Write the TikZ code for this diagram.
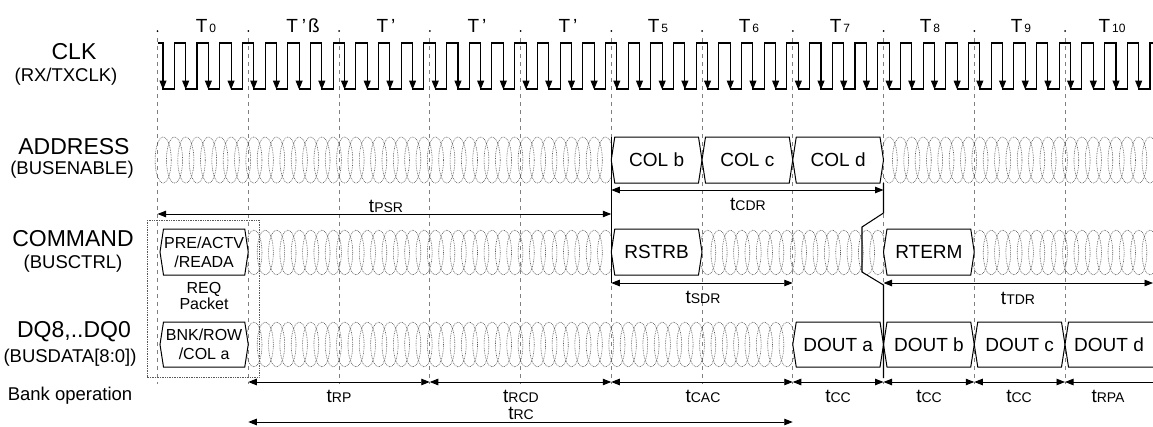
\documentclass[tikz,border=0pt]{standalone}
\usepackage{fontspec}
\setmainfont{Liberation Sans}
\usetikzlibrary{arrows.meta}
\newcommand\myfs[1]{\fontsize{#1}{#1}\selectfont}
\newcommand\dcrow[5]{%
  \foreach \i in {1,...,#2} \draw[dc] ({#1+(\i-0.5)*#5},#3) ellipse [x radius={#5/2+2.4}, y radius=#4];}
\newcommand\bbox[7]{%
  \path[bus] (#2,{(#4+#5)/2}) -- ({#2+3.5},#4) -- ({#3-3.5},#4) -- (#3,{(#4+#5)/2}) -- ({#3-3.5},#5) -- ({#2+3.5},#5) -- cycle;
  \node[valbox,#6] (#1) at ({(#2+#3)/2},{(#4+#5)/2}) {#7};}
\newcommand\tl[1]{t{\myfs{14}#1}}
\begin{document}
\begin{tikzpicture}[x=1pt,y=-1pt,
  wave/.style={line width=1.05pt},
  gridln/.style={gray, line width=0.7pt, dash pattern=on 4pt off 4pt},
  dc/.style={gray!70!black, line width=0.6pt, dash pattern=on 0.8pt off 0.9pt},
  bus/.style={draw=black, line width=1pt, fill=white},
  dim/.style={line width=0.9pt, >={Triangle[length=8.5pt,width=6.5pt]}, <->},
  mainlab/.style={font=\myfs{23}, inner sep=0pt},
  sublab/.style={font=\myfs{18.5}, inner sep=0pt},
  valbox/.style={font=\myfs{19}, inner sep=0pt, align=center},
  tlab/.style={font=\myfs{19}, inner sep=0pt},
  toplab/.style={font=\myfs{19}, inner sep=0pt, anchor=base},
]
\useasboundingbox (0,0) rectangle (1153,426);

% grid lines and dots
\foreach \k in {0,...,10} {
  \draw[gridln] ({157.5+90.75*\k},38) -- ({157.5+90.75*\k},384);
  \fill ({157.5+90.75*\k},31) circle (1pt);
}

% top labels
\node[toplab] (c0) at (206,32) {T{\myfs{12}\,0}};
\node[toplab] (c1) at (303,32) {T\hspace{4pt}'\hspace{2pt}ß};
\node[toplab] (c2) at (386,32) {T\hspace{3pt}'};
\node[toplab] (c3) at (477,32) {T\hspace{3pt}'};
\node[toplab] (c4) at (568,32) {T\hspace{3pt}'};
\node[toplab] (c5) at (658,32) {T{\myfs{12}\,5}};
\node[toplab] (c6) at (749,32) {T{\myfs{12}\,6}};
\node[toplab] (c7) at (840,32) {T{\myfs{12}\,7}};
\node[toplab] (c8) at (930,32) {T{\myfs{12}\,8}};
\node[toplab] (c9) at (1021,32) {T{\myfs{12}\,9}};
\node[toplab] (c10) at (1112,32) {T{\myfs{12}\,10}};

% left labels
\node[mainlab] (clk) at (74,52) {CLK};
\node[sublab] (clks) at (66,77) {(RX/TXCLK)};
\node[mainlab] (addr) at (74,147) {ADDRESS};
\node[sublab] (addrs) at (72,170) {(BUSENABLE)};
\node[mainlab] (cmd) at (73,239) {COMMAND};
\node[sublab] (cmds) at (73,264) {(BUSCTRL)};
\node[mainlab] (dq) at (74,332) {DQ8,..DQ0};
\node[sublab] (dqs) at (70,358) {(BUSDATA[8:0])};
\node[sublab] (bank) at (70,396) {Bank operation};

% clock
\draw[wave] (157.5,43) foreach \k in {0,...,43} { -- ({163+22.69*\k},43) -- ({163+22.69*\k},89) -- ({174.3+22.69*\k},89) -- ({174.3+22.69*\k},43) } -- (1153,43);
\foreach \k in {0,...,43}
  \draw[wave, >={Triangle[length=9pt,width=7pt]}, ->] ({163+22.69*\k},50) -- ({163+22.69*\k},89.5);

% don't care regions
\dcrow{157.5}{40}{160}{23}{11.344}
\dcrow{883.5}{24}{160}{23}{11.344}
\dcrow{248.25}{32}{252.5}{22.5}{11.344}
\dcrow{702}{16}{252.5}{22.5}{11.344}
\dcrow{974.25}{16}{252.5}{22.5}{11.344}
\dcrow{248.25}{48}{344.5}{22.5}{11.344}

% REQ packet dotted box
\draw[dc] (147,220) rectangle (259,377);
\node[font=\fontsize{16}{14}\selectfont, align=center, inner sep=0pt] (req) at (204,296) {REQ\\Packet};

% value boxes
\bbox{colb}{611.25}{702}{137}{183}{}{COL b}
\bbox{colc}{702}{792.75}{137}{183}{}{COL c}
\bbox{cold}{792.75}{883.5}{137}{183}{}{COL d}
\bbox{pre}{160}{248.25}{229}{275}{font=\fontsize{16}{19}\selectfont}{PRE/ACTV\\/READA}
\bbox{rstrb}{611.25}{702}{229}{275}{}{RSTRB}
\bbox{rterm}{883.5}{974.25}{229}{275}{}{RTERM}
\bbox{bnk}{160}{248.25}{322}{367}{font=\fontsize{16}{19}\selectfont}{BNK/ROW\\/COL a}
\bbox{douta}{792.75}{883.5}{322}{367}{}{DOUT a}
\bbox{doutb}{883.5}{974.25}{322}{367}{}{DOUT b}
\bbox{doutc}{974.25}{1065}{322}{367}{}{DOUT c}
\path[bus] (1160,322) -- (1068.5,322) -- (1065,344.5) -- (1068.5,367) -- (1160,367);
\node[valbox] (doutd) at (1109,344.5) {DOUT d};

% solid marker lines
\draw[wave] (611.25,137) -- (611.25,283);
\draw[wave] (883.5,183) -- (883.5,213) -- (862,227) -- (862,272) -- (883.5,285) -- (883.5,378);

% dimension coordinates
\coordinate (psrL) at (157.5,214);  \coordinate (psrR) at (611.25,214);
\coordinate (cdrL) at (611.25,190); \coordinate (cdrR) at (883.5,190);
\coordinate (sdrL) at (611.25,283); \coordinate (sdrR) at (792.75,283);
\coordinate (tdrL) at (883.5,283);  \coordinate (tdrR) at (1153,283);
\foreach \k in {1,...,10} \coordinate (bk\k) at ({157.5+90.75*\k},382);
\coordinate (bkE) at (1153,382);
\coordinate (rcL) at (248.25,422);  \coordinate (rcR) at (792.75,422);

\draw[dim] (psrL) -- (psrR);
\draw[dim] (cdrL) -- (cdrR);
\draw[dim] (sdrL) -- (sdrR);
\draw[dim] (tdrL) -- (tdrR);
\draw[dim] (bk1) -- (bk3);
\draw[dim] (bk3) -- (bk5);
\draw[dim] (bk5) -- (bk7);
\draw[dim] (bk7) -- (bk8);
\draw[dim] (bk8) -- (bk9);
\draw[dim] (bk9) -- (bk10);
\draw[dim, <-] (bk10) -- (bkE);
\draw[dim] (rcL) -- (rcR);

% dimension labels
\node[tlab] (lpsr) at (386,206) {\tl{PSR}};
\node[tlab] (lcdr) at (748,204) {\tl{CDR}};
\node[tlab] (lsdr) at (703,297) {\tl{SDR}};
\node[tlab] (ltdr) at (1018,298) {\tl{TDR}};
\node[tlab] (lrp) at (339,396) {\tl{RP}};
\node[tlab] (lrcd) at (521,396) {\tl{RCD}};
\node[tlab] (lcac) at (703,396) {\tl{CAC}};
\node[tlab] (lcc1) at (838,396) {\tl{CC}};
\node[tlab] (lcc2) at (929,396) {\tl{CC}};
\node[tlab] (lcc3) at (1019,396) {\tl{CC}};
\node[tlab] (lrpa) at (1108,396) {\tl{RPA}};
\node[tlab] (lrc) at (521,413) {\tl{RC}};
\end{tikzpicture}
\end{document}
